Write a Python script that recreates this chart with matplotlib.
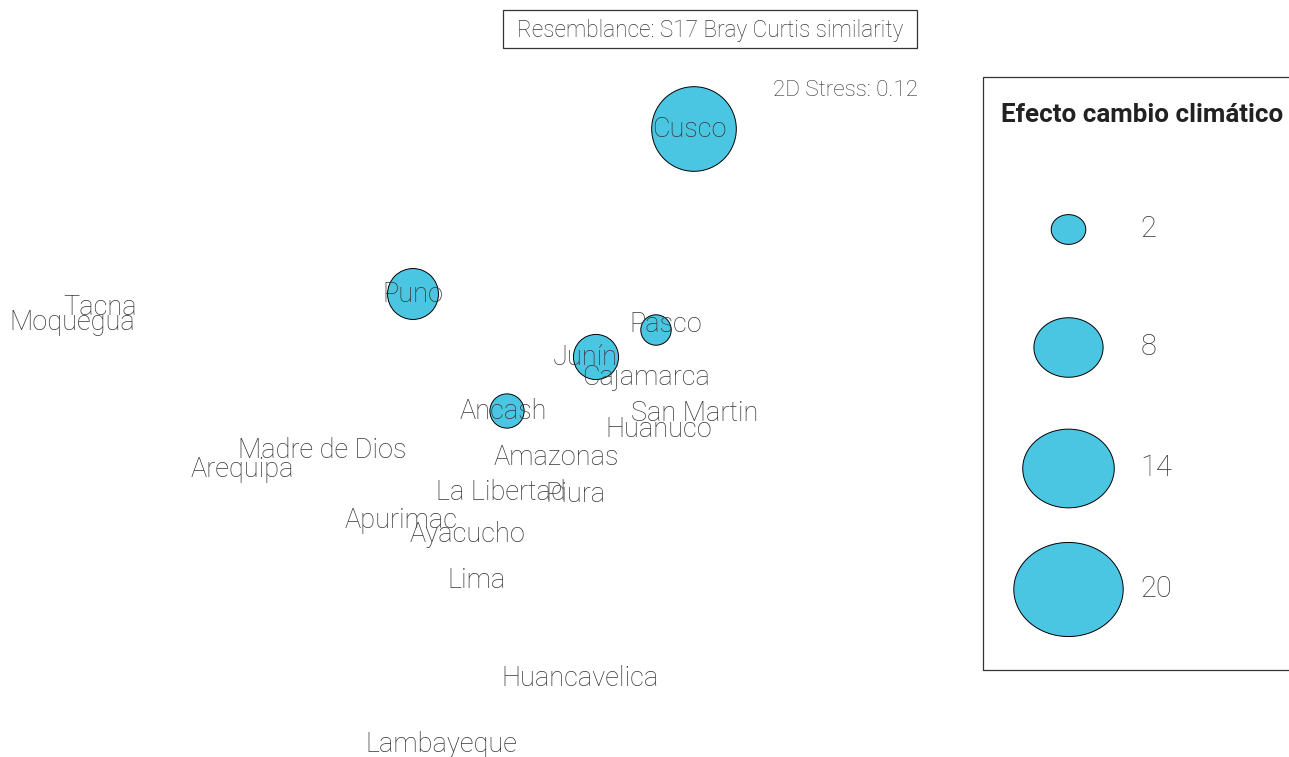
import matplotlib
matplotlib.use("Agg")
import matplotlib.pyplot as plt
from matplotlib.path import Path
from matplotlib.patches import Rectangle
import numpy as np

# MDS coordinates (arbitrary units)
regions = ['Cusco', 'Puno', 'Tacna', 'Moquegua', 'Pasco', 'Junín', 'Cajamarca',
           'Ancash', 'San Martin', 'Huanuco', 'Madre de Dios', 'Amazonas',
           'Arequipa', 'La Libertad', 'Piura', 'Apurimac', 'Ayacucho', 'Lima',
           'Huancavelica', 'Lambayeque']
mds_x = [1.94, -0.87, -4.00, -4.28, 1.56, 0.96, 1.46,
         0.07, 1.95, 1.59, -1.78, 0.56,
         -2.58, 0.01, 0.75, -0.99, -0.32, -0.23,
         0.80, -0.59]
mds_y = [2.71, 1.06, 0.93, 0.78, 0.70, 0.43, 0.23,
         -0.11, -0.13, -0.29, -0.50, -0.57,
         -0.69, -0.92, -0.94, -1.20, -1.35, -1.81,
         -2.79, -3.44]
# climate change effect (bubble size)
efecto = [11.6, 4.2, 0, 0, 1.5, 3.3, 0,
          1.9, 0, 0, 0, 0,
          0, 0, 0, 0, 0, 0,
          0, 0]
# label nudges (points) where the label is not centred on the bubble
label_dx = {'Cusco': -3, 'Pasco': 7, 'Junín': -8, 'Ancash': -3}
label_dy = {'Pasco': 4}

legend_vals = [2, 8, 14, 20]

bubble_color = '#4bc6e2'
text_color = '#363636'
FONT = 'Roboto'
SCALE = 320.0  # marker area (pt^2) per unit of efecto
W, H = 1289, 757

fig = plt.figure(figsize=(12.89, 7.57), dpi=100)
ax = fig.add_axes([0, 0, 1, 1])
ax.set_xlim(-5.0, 7.89)
ax.set_ylim(-3.57, 4.0)
ax.axis('off')

vals = np.array(efecto)
xs = np.array(mds_x)
ys = np.array(mds_y)
m = vals > 0
ax.scatter(xs[m], ys[m], s=vals[m] * SCALE, color=bubble_color,
           edgecolor='black', linewidth=0.7, zorder=2)

for name, x, y in zip(regions, mds_x, mds_y):
    ax.annotate(name, (x, y), xytext=(label_dx.get(name, 0), label_dy.get(name, 0)),
                textcoords='offset points', ha='center', va='center',
                fontsize=19.5, family=FONT, fontweight='light', color=text_color, zorder=3)

# header texts
fig.patches.append(Rectangle((503 / W, 1 - 48 / H), 414 / W, 38 / H,
                             transform=fig.transFigure, facecolor='white',
                             edgecolor='#333333', linewidth=0.9))
fig.text(710 / W, 1 - 30 / H, 'Resemblance: S17 Bray Curtis similarity', ha='center', va='center',
         fontsize=16.3, family=FONT, fontweight='light', color=text_color)
fig.text(918 / W, 1 - 90 / H, '2D Stress: 0.12', ha='right', va='center',
         fontsize=16.2, family=FONT, fontweight='light', color=text_color)

# size legend
fig.patches.append(Rectangle((983 / W, 1 - 670 / H), 0.3, (670 - 77) / H,
                             transform=fig.transFigure, facecolor='none',
                             edgecolor='#333333', linewidth=0.9))
fig.text(1001 / W, 1 - 115 / H, 'Efecto cambio climático', ha='left', va='center',
         fontsize=18.7, family=FONT, fontweight='bold', color='#222222')

t = np.linspace(0, 2 * np.pi, 80)
ellipse = Path(np.column_stack([np.cos(t), 0.86 * np.sin(t)]), closed=True)
lax = fig.add_axes([983 / W, 1 - 670 / H, 306 / W, (670 - 77) / H])
lax.set_xlim(0, 1)
lax.set_ylim(0, 1)
lax.axis('off')
leg_y = [0.743, 0.544, 0.341, 0.137]
for v, ly in zip(legend_vals, leg_y):
    lax.scatter([0.277], [ly], s=v * SCALE * 0.97, marker=ellipse, color=bubble_color,
                edgecolor='black', linewidth=0.7)
    lax.text(0.515, ly, str(v), ha='left', va='center', fontsize=21,
             family=FONT, fontweight='light', color=text_color)

fig.savefig('out.png', dpi=100)
